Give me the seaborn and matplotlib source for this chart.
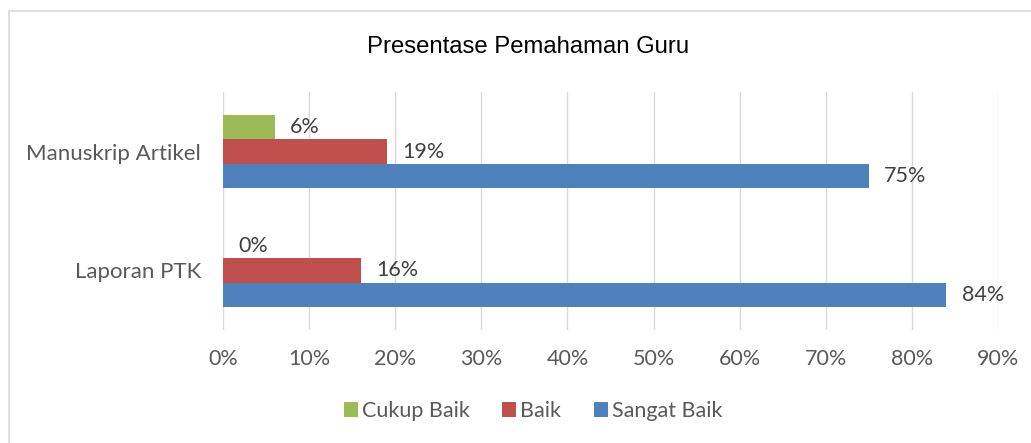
import pandas as pd
import numpy as np
import matplotlib.pyplot as plt
import seaborn as sns
from matplotlib.patches import Patch, Rectangle

# data
categories = ['Manuskrip Artikel', 'Laporan PTK']
levels = ['Cukup Baik', 'Baik', 'Sangat Baik']
cukup_baik = [6, 0]
baik = [19, 16]
sangat_baik = [75, 84]
x_ticks = [0, 10, 20, 30, 40, 50, 60, 70, 80, 90]
colors = ['#9BBB59', '#C0504D', '#4F81BD']

df = pd.DataFrame({
    'kategori': categories * 3,
    'tingkat': [levels[0]] * 2 + [levels[1]] * 2 + [levels[2]] * 2,
    'nilai': cukup_baik + baik + sangat_baik,
})

sns.set_style('white')
plt.rcParams['font.family'] = ['Lato', 'DejaVu Sans']

fig = plt.figure(figsize=(10.31, 4.43), dpi=100)
ax = fig.add_axes([223 / 1031, 1 - 330 / 443, (998 - 223) / 1031, (330 - 92) / 443])

sns.barplot(data=df, y='kategori', x='nilai', hue='tingkat', order=categories,
            hue_order=levels, palette=colors, width=0.62, gap=0, orient='h',
            linewidth=0, saturation=1, legend=False, ax=ax)

for cont in ax.containers:
    vals = [b.get_width() for b in cont]
    ax.bar_label(cont, labels=['{:.0f}%'.format(v) for v in vals], padding=11,
                 fontsize=15.5, color='#404040')

ax.set_xlim(0, 90)
ax.set_xticks(x_ticks)
ax.set_xticklabels(['{}%'.format(t) for t in x_ticks])
ax.xaxis.grid(True, color='#D9D9D9', linewidth=1)
ax.set_axisbelow(True)
for s in ax.spines.values():
    s.set_visible(False)
ax.set_xlabel('')
ax.set_ylabel('')
ax.tick_params(axis='x', length=0, pad=14, labelsize=15.5, labelcolor='#595959')
ax.tick_params(axis='y', length=0, pad=16, labelsize=16, labelcolor='#595959')

fig.text(528 / 1031, 1 - 47 / 443, 'Presentase Pemahaman Guru', ha='center', va='center',
         fontsize=17.2, family='Liberation Sans', color='#000000')

handles = [Patch(facecolor=c, edgecolor='none') for c in colors]
fig.legend(handles, levels, loc='center', bbox_to_anchor=(533 / 1031, 1 - 411 / 443),
           ncol=3, frameon=False, fontsize=15.5, labelcolor='#595959',
           handlelength=0.65, handleheight=0.65, handletextpad=0.2, columnspacing=1.5)

# chart area border
fig.patches.append(Rectangle((9 / 1031, -0.1), 1.2, 1 - 11 / 443 + 0.1, transform=fig.transFigure,
                             fill=False, edgecolor='#D9D9D9', linewidth=1.2))

fig.savefig('out.png', dpi=100)
